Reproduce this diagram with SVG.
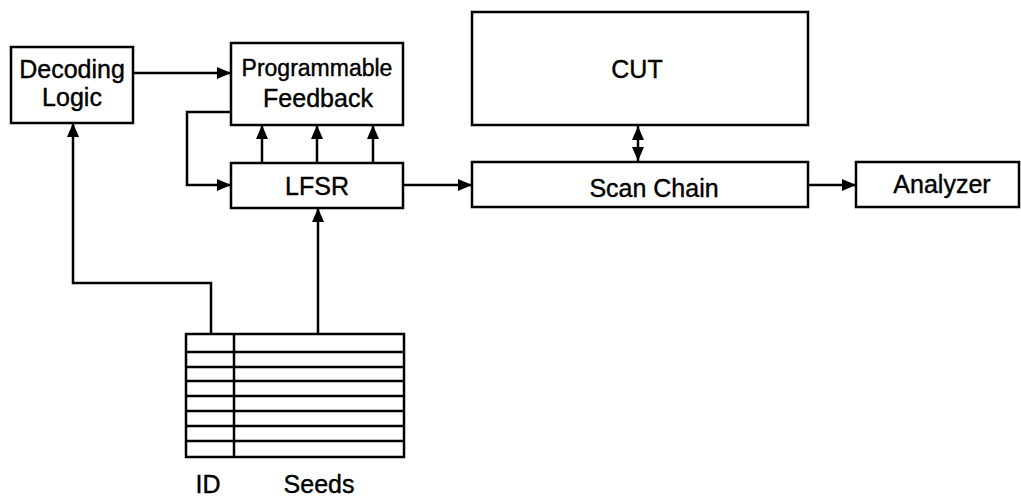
<svg xmlns="http://www.w3.org/2000/svg" width="1021" height="498" viewBox="0 0 1021 498">
  <style>
    .box { fill: #fff; stroke: #000; stroke-width: 2.5; }
    .wire { fill: none; stroke: #000; stroke-width: 2.5; }
    .arrow { marker-end: url(#head); }
    text { font-family: "Liberation Sans", Arial, sans-serif; font-size: 25px; fill: #000; stroke: #000; stroke-width: 0.4; text-anchor: middle; }
    .small { font-size: 23px; }
  </style>
  <defs>
    <marker id="head" markerUnits="userSpaceOnUse" markerWidth="15" markerHeight="13" refX="14" refY="6" orient="auto-start-reverse">
      <path d="M0,0 L14,6 L0,12 z" fill="#000"/>
    </marker>
  </defs>

  <rect width="1021" height="498" fill="#fff"/>

  <!-- connectors -->
  <g id="connectors">
    <!-- decoding logic to feedback network -->
    <path class="wire arrow" d="M133,73 H231"/>
    <!-- feedback output looped into LFSR -->
    <path class="wire arrow" d="M231,112 H187 V185 H231"/>
    <!-- LFSR taps up to feedback -->
    <path class="wire arrow" d="M262,163 V125"/>
    <path class="wire arrow" d="M317,163 V125"/>
    <path class="wire arrow" d="M373,163 V125"/>
    <!-- seed memory to LFSR -->
    <path class="wire arrow" d="M318,334 V208"/>
    <!-- ID field to decoding logic -->
    <path class="wire arrow" d="M211,334 V283 H73 V123"/>
    <!-- LFSR to scan chain -->
    <path class="wire arrow" d="M403,185 H472"/>
    <!-- scan chain <-> CUT -->
    <path class="wire" d="M638,126 V161" marker-start="url(#head)" marker-end="url(#head)"/>
    <!-- scan chain to analyzer -->
    <path class="wire arrow" d="M808,185 H856"/>
  </g>

  <g id="decoding-logic">
    <rect class="box" x="11" y="47" width="122" height="76"/>
    <text x="72" y="78">Decoding</text>
    <text x="72" y="106">Logic</text>
  </g>

  <g id="programmable-feedback">
    <rect class="box" x="231" y="43" width="172" height="82"/>
    <text class="small" x="317" y="76">Programmable</text>
    <text x="318" y="107">Feedback</text>
  </g>

  <g id="lfsr">
    <rect class="box" x="231" y="163" width="172" height="45"/>
    <text x="317" y="195">LFSR</text>
  </g>

  <g id="cut">
    <rect class="box" x="472" y="12" width="336" height="113"/>
    <text x="637" y="78">CUT</text>
  </g>

  <g id="scan-chain">
    <rect class="box" x="472" y="162" width="336" height="45"/>
    <text x="654" y="197">Scan Chain</text>
  </g>

  <g id="analyzer">
    <rect class="box" x="856" y="162" width="163" height="45"/>
    <text x="942" y="193">Analyzer</text>
  </g>

  <!-- seed memory: ID column and seed column, eight rows -->
  <g id="seed-memory">
    <rect class="box" x="186" y="334" width="218" height="123"/>
    <path class="wire" d="M234,334 V457 M186,352 H404 M186,367 H404 M186,381 H404 M186,396 H404 M186,411 H404 M186,426 H404 M186,441 H404"/>
    <text x="208" y="493">ID</text>
    <text x="319" y="493">Seeds</text>
  </g>
</svg>
